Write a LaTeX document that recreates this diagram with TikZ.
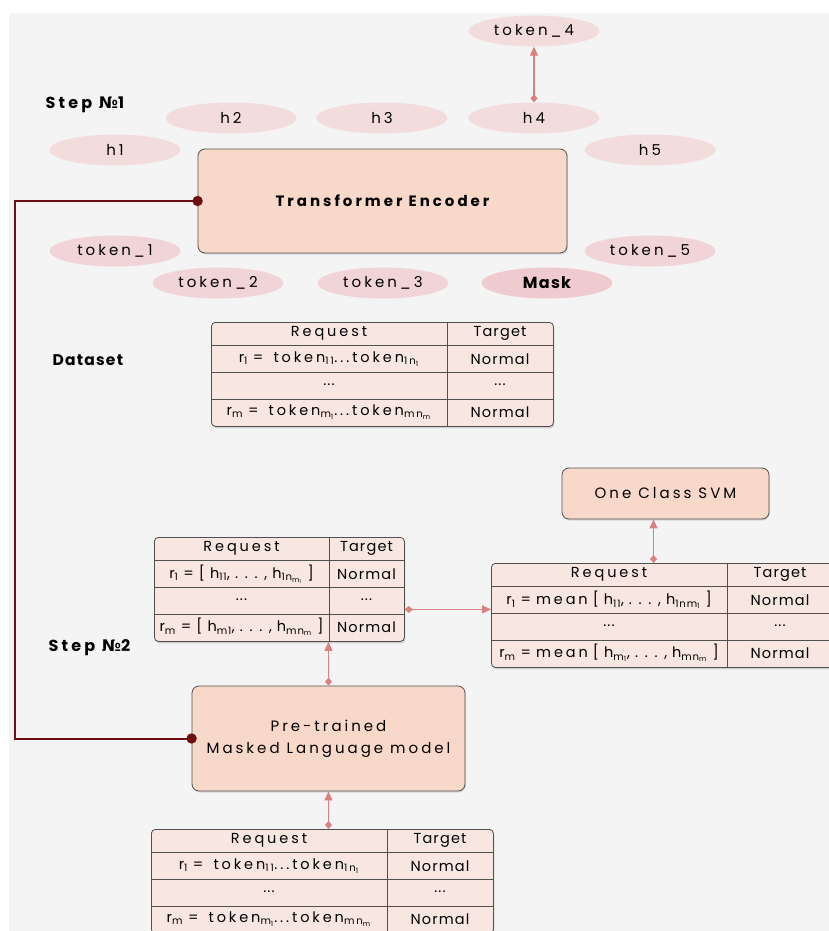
\documentclass[tikz,border=0pt]{standalone}
\usepackage{fontspec}
\setmainfont[LetterSpace=8]{Poppins}
\newfontfamily\wideface[LetterSpace=20]{Poppins}
\newfontfamily\numface{DejaVu Sans}
\usetikzlibrary{arrows.meta, positioning, shapes.geometric, calc, shadows}
\definecolor{bgGray}{HTML}{F4F4F4}
\definecolor{hidFill}{HTML}{F2DCDC}
\definecolor{tokFill}{HTML}{F1D4D7}
\definecolor{maskFill}{HTML}{EFCBCF}
\definecolor{blockFill}{HTML}{F8D8C8}
\definecolor{tblFill}{HTML}{F8E7E1}
\definecolor{edgeGray}{HTML}{505050}
\definecolor{flowPink}{HTML}{D9817F}
\definecolor{linkRed}{HTML}{6A0E12}

\newcommand{\subx}[1]{\textsubscript{#1}}
\newcommand{\nosign}{{\numface\bfseries №}}

% request / target table: name, left, top, width, split, first row, last row
\newcommand{\reqtable}[7]{%
  \node[tbl, anchor=north west, minimum width=#4pt, minimum height=104pt] (#1) at (#2,#3) {};
  \draw[edgeGray, line width=0.8pt] (#2,{#3+23}) -- ++(#4,0);
  \draw[edgeGray, line width=0.8pt] (#2,{#3+50}) -- ++(#4,0);
  \draw[edgeGray, line width=0.8pt] (#2,{#3+77}) -- ++(#4,0);
  \draw[edgeGray, line width=0.8pt] (#5,#3) -- ++(0,104);
  \node[cell] (#1-req) at ({(#2+#5)/2},{#3+11.5}) {\wideface Request};
  \node[cell] (#1-tgt) at ({(#5+#2+#4)/2},{#3+11.5}) {Target};
  \node[cell] (#1-r1) at ({(#2+#5)/2},{#3+37}) {#6};
  \node[cell] (#1-n1) at ({(#5+#2+#4)/2},{#3+37}) {Normal};
  \node[cell] (#1-d1) at ({(#2+#5)/2},{#3+63}) {...};
  \node[cell] (#1-d2) at ({(#5+#2+#4)/2},{#3+63}) {...};
  \node[cell] (#1-rm) at ({(#2+#5)/2},{#3+90}) {#7};
  \node[cell] (#1-nm) at ({(#5+#2+#4)/2},{#3+90}) {Normal};
}

\tikzset{
  hid/.style={ellipse, fill=hidFill, minimum width=131pt, minimum height=31pt,
    inner sep=0pt, font=\fontsize{15}{17}\wideface},
  tok/.style={hid, fill=tokFill},
  block/.style={rectangle, rounded corners=7pt, draw=edgeGray, fill=blockFill,
    line width=0.8pt, align=center, drop shadow={shadow xshift=0.8pt,
    shadow yshift=-1.5pt, opacity=0.25}},
  tbl/.style={rectangle, rounded corners=4pt, draw=edgeGray, fill=tblFill,
    line width=0.8pt, drop shadow={shadow xshift=1pt, shadow yshift=-2pt, opacity=0.3}},
  cell/.style={inner sep=0pt, font=\fontsize{14.5}{16}\selectfont},
  steplabel/.style={anchor=west, font=\fontsize{16}{18}\wideface\bfseries},
  flow/.style={draw=flowPink, line width=1.3pt,
    {Diamond[length=8pt, width=7pt]}-{Triangle[length=9pt, width=8pt]}},
  link/.style={draw=linkRed, line width=2pt},
}

\begin{document}
\begin{tikzpicture}[x=1pt, y=-1pt]
  \useasboundingbox (0,0) rectangle (829,931);
  \fill[bgGray] (9,13) rectangle (829,931);

  % step 1
  \node[steplabel] (step1) at (42,105) {Step\ \nosign1};
  \node[block, minimum width=369pt, minimum height=104pt,
    font=\fontsize{15}{18}\wideface\bfseries] (te) at (382.5,201) {Transformer Encoder};

  \node[hid] (h1) at (115,150) {h1};
  \node[hid] (h2) at (231,118) {h2};
  \node[hid] (h3) at (382,118) {h3};
  \node[hid] (h4) at (534,118) {h4};
  \node[hid] (h5) at (650,150) {h5};
  \node[hid] (out4) at (534,31) {token\_4};

  \node[tok] (t1) at (115,251) {token\_1};
  \node[tok] (t2) at (218,283) {token\_2};
  \node[tok] (t3) at (383,283) {token\_3};
  \node[tok, fill=maskFill, font=\fontsize{16}{18}\bfseries] (t4) at (547,283) {Mask};
  \node[tok] (t5) at (650,251) {token\_5};

  \draw[flow] (h4) -- (out4);

  % dataset
  \node[steplabel, font=\fontsize{15.5}{18}\bfseries] (dslabel) at (49,360) {Dataset};
  \reqtable{ds}{211}{322}{342}{447}
    {r\subx{1} =\ \ {\wideface token\subx{11}...token\subx{1n\subx{1}}}}
    {r\subx{m} =\ \ {\wideface token\subx{m\subx{1}}...token\subx{mn\subx{m}}}}

  % step 2
  \node[steplabel] (step2) at (45,648) {Step\ \nosign2};
  \node[block, minimum width=207pt, minimum height=51pt,
    font=\fontsize{15}{18}\wideface] (svm) at (665.5,493.5) {One Class SVM};
  \node[block, minimum width=273pt, minimum height=105pt,
    font=\fontsize{15}{22}\wideface] (mlm) at (328.5,738.5) {Pre-trained\\Masked Language model};

  \reqtable{hv}{154}{537}{250}{329}
    {r\subx{1} = [ h\subx{11}, . . . , h\subx{1n\subx{m\subx{1}}} ]}
    {r\subx{m} = [ h\subx{m1}, . . . , h\subx{mn\subx{m}} ]}
  \reqtable{mv}{491}{563}{342}{727}
    {r\subx{1} = {\wideface mean} [ h\subx{11}, . . . , h\subx{1nm\subx{1}} ]}
    {r\subx{m} = {\wideface mean} [ h\subx{m\subx{1}}, . . . , h\subx{mn\subx{m}} ]}
  \reqtable{raw}{151}{829}{342}{387}
    {r\subx{1} =\ \ {\wideface token\subx{11}...token\subx{1n\subx{1}}}}
    {r\subx{m} =\ \ {\wideface token\subx{m\subx{1}}...token\subx{mn\subx{m}}}}

  \draw[flow] (raw.north -| mlm.south) -- (mlm.south);
  \draw[flow] (mlm.north) -- (mlm.north |- hv.south);
  \draw[flow] ([yshift=-20pt]hv.east) -- ([yshift=-20pt]hv.east -| mv.west);
  \draw[flow] ([xshift=-12pt]svm.south |- mv.north) -- ([xshift=-12pt]svm.south);

  % link between the two models
  \draw[link] (te.west) -- ++(-183,0) |- (mlm.west);
  \fill[linkRed] (te.west) circle (5.2pt);
  \fill[linkRed] (mlm.west) circle (5.2pt);
\end{tikzpicture}
\end{document}
